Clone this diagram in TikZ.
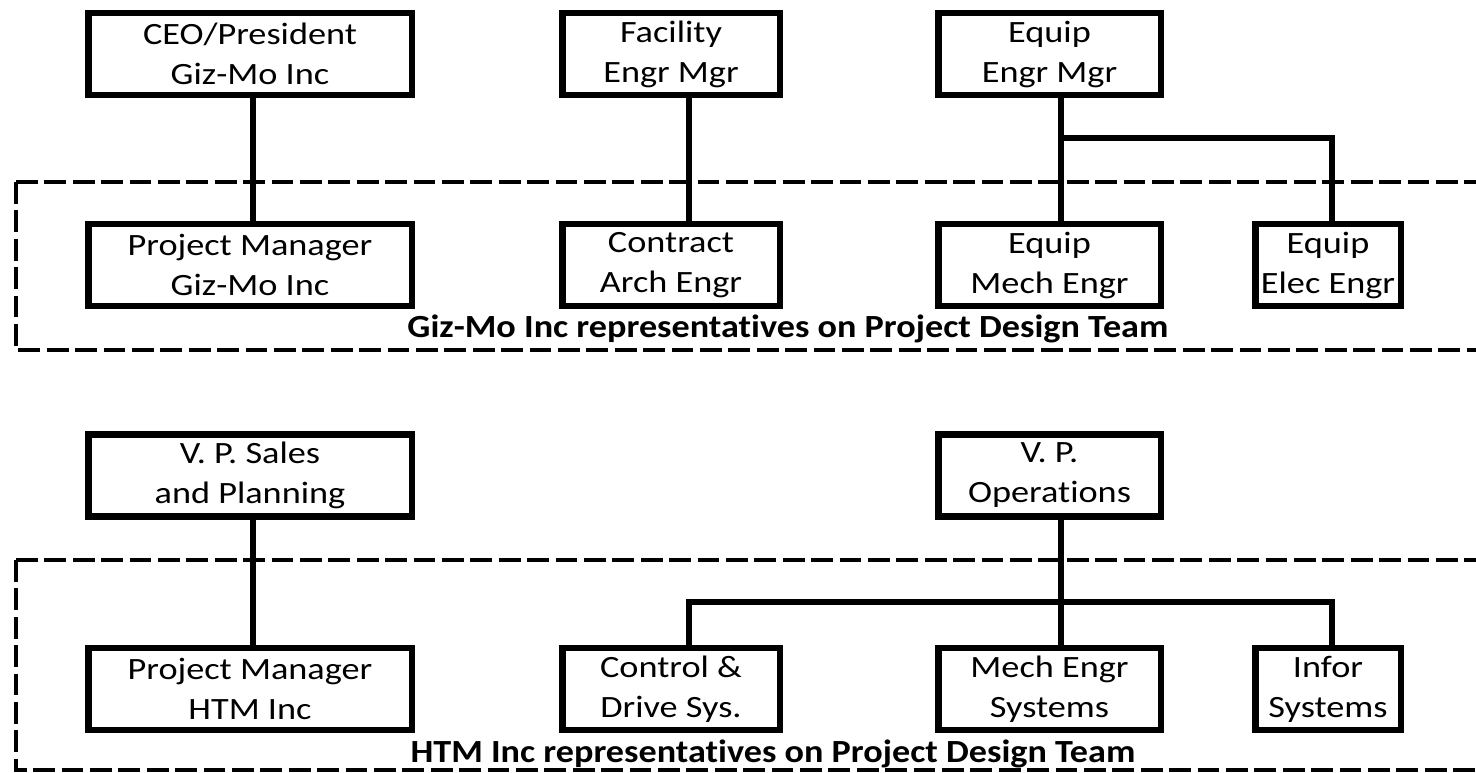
\documentclass[tikz,border=0pt]{standalone}
\usepackage{fontspec}
\newfontfamily\boxfam{Carlito}[FakeStretch=1.17, Ligatures=NoCommon]
\newfontfamily\labfam{Carlito}[FakeStretch=1.12, Ligatures=NoCommon]
\begin{document}
\begin{tikzpicture}[x=1pt,y=-1pt,
  orgbox/.style={draw, line width=6.5pt, inner sep=0pt, align=center,
    minimum height=82pt, font=\boxfam\fontsize{31}{40}\selectfont},
  widebox/.style={orgbox, minimum width=323.5pt},
  midbox/.style={orgbox, minimum width=217.5pt},
  midbbox/.style={orgbox, minimum width=222.5pt},
  narrowbox/.style={orgbox, minimum width=145.5pt},
  link/.style={line width=6pt},
  team/.style={line width=4pt, dash pattern=on 21.7pt off 6.7pt},
  teamlabel/.style={font=\labfam\bfseries\fontsize{32.3}{37}\selectfont, inner sep=0pt}]
\useasboundingbox (0,0) rectangle (1476,772);
\fill[white] (0,0) rectangle (1476,772);
\begin{scope}
\clip (0,0) rectangle (1476,772);
% top group
\node[widebox]  (ceo)  at (250,54)    {CEO/President\\Giz-Mo Inc};
\node[midbox]   (fac)  at (671,54)    {Facility\\Engr Mgr};
\node[midbbox]  (eqm)  at (1049.5,54) {Equip\\Engr Mgr};
\node[widebox]  (pm1)  at (250,265)   {Project Manager\\Giz-Mo Inc};
\node[midbox]   (arch) at (671,265)   {Contract\\Arch Engr};
\node[midbbox]  (mech) at (1049.5,265){Equip\\Mech Engr};
\node[narrowbox](elec) at (1328,265)  {Equip\\Elec Engr};
% bottom group
\node[widebox]  (vps)  at (250,475.5)    {V. P. Sales\\and Planning};
\node[midbbox]  (ops)  at (1049.5,475.5) {V. P.\\Operations};
\node[widebox]  (pm2)  at (250,689)      {Project Manager\\HTM Inc};
\node[midbox]   (ctrl) at (671,689)      {Control \&\\Drive Sys.};
\node[midbbox]  (mechs) at (1049.5,689)  {Mech Engr\\Systems};
\node[narrowbox](infor) at (1328,689)    {Infor\\Systems};
% junctions
\coordinate (j1) at (1061,138);
\coordinate (j2) at (1332,602);
% connectors
\draw[link] ([xshift=3pt]ceo.south) -- ([xshift=3pt]pm1.north);
\draw[link] ([xshift=18pt]fac.south) -- ([xshift=18pt]arch.north);
\draw[link] ([xshift=11.5pt]eqm.south) -- ([xshift=11.5pt]mech.north);
\draw[link] (j1) -| ([xshift=4pt]elec.north);
\draw[link] ([xshift=3pt]vps.south) -- ([xshift=3pt]pm2.north);
\draw[link] ([xshift=11.5pt]ops.south) -- ([xshift=11.5pt]mechs.north);
\draw[link] ([xshift=18pt]ctrl.north) |- (j2) -- ([xshift=4pt]infor.north);
% dashed team boundaries
\draw[team] (16,182) -- (1490,182);
\draw[team] (16,182) -- (16,350) -- (1490,350);
\draw[team] (16,560) -- (1490,560);
\draw[team] (16,560) -- (16,770) -- (1490,770);
\node[teamlabel] (lab1) at (788,329) {Giz-Mo Inc representatives on Project Design Team};
\node[teamlabel] (lab2) at (773,754) {HTM Inc representatives on Project Design Team};
\end{scope}
\end{tikzpicture}
\end{document}
